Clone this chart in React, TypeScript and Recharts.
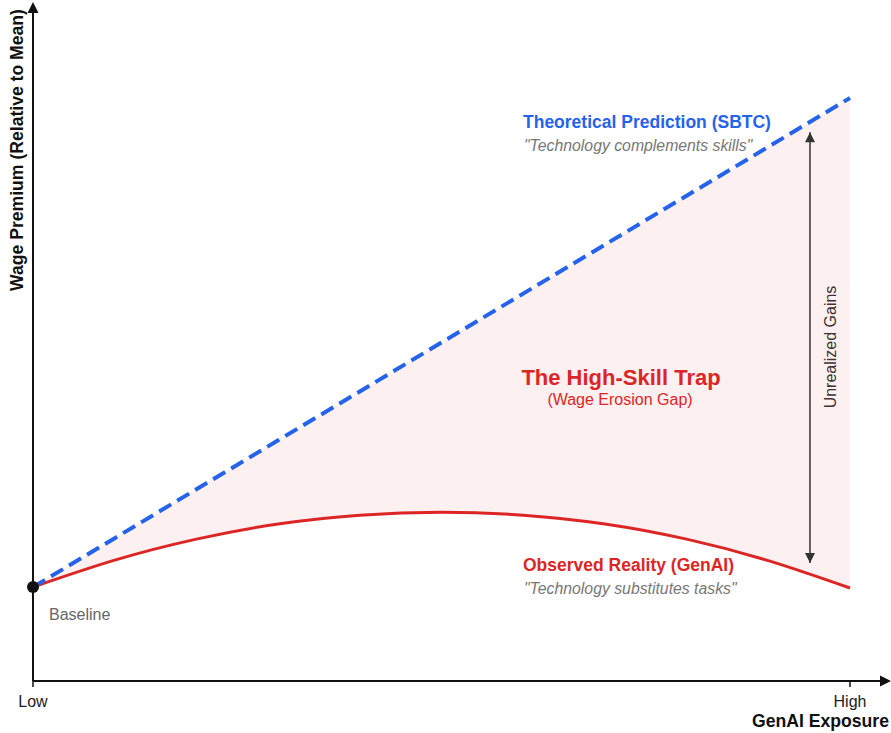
import React from "react";
import {
  ComposedChart,
  Line,
  Area,
  XAxis,
  YAxis,
  ReferenceLine,
  ReferenceDot,
  Customized,
} from "recharts";

// ---- data ----
const exposure = [0, 10, 20, 30, 40, 50, 60, 70, 80, 90, 100];
const theoretical = [0, 10, 20, 30, 40, 50, 60, 70, 80, 90, 100];
const observed = [0, 5.5, 9.8, 12.9, 14.7, 15.3, 14.7, 12.9, 9.8, 5.4, -0.2];
const xTickValues = [0, 100];
const xTickLabels = ["Low", "High"];
const gapX = 95.1;
const gapTop = 93.0;
const gapBottom = 4.9;
const xMax = 104.65;
const yMin = -19.2;
const yMax = 119;

const BLUE = "#2563eb";
const RED = "#dc2626";
const FONT = "'Liberation Sans', Arial, Helvetica, sans-serif";

const data = exposure.map((x, i) => ({
  x,
  blue: theoretical[i],
  red: observed[i],
  gap: [observed[i], theoretical[i]],
}));

const UpHead = (p: any) => (
  <polygon
    points={`${p.cx},${p.cy} ${p.cx - 5},${p.cy + 10} ${p.cx + 5},${p.cy + 10}`}
    fill="#333"
  />
);
const DownHead = (p: any) => (
  <polygon
    points={`${p.cx},${p.cy} ${p.cx - 5},${p.cy - 10} ${p.cx + 5},${p.cy - 10}`}
    fill="#333"
  />
);
const YArrow = (p: any) => (
  <polygon
    points={`${p.cx},${p.cy - 3} ${p.cx - 5.5},${p.cy + 8} ${p.cx + 5.5},${p.cy + 8}`}
    fill="#111"
  />
);
const XArrow = (p: any) => (
  <polygon
    points={`${p.cx + 3},${p.cy} ${p.cx - 8},${p.cy - 5.5} ${p.cx - 8},${p.cy + 5.5}`}
    fill="#111"
  />
);
const BaseDot = (p: any) => <circle cx={p.cx} cy={p.cy} r={6} fill="#111" />;

const Annotations = () => (
  <g style={{ fontFamily: FONT }}>
    <text
      x={0}
      y={0}
      transform="translate(23,150) rotate(-90)"
      textAnchor="middle"
      fontSize={17.6}
      fontWeight="bold"
      fill="#111"
    >
      Wage Premium (Relative to Mean)
    </text>
    <text x={889} y={727} textAnchor="end" fontSize={17.6} fontWeight="bold" fill="#111">
      GenAI Exposure
    </text>
    <text x={523} y={128} fontSize={17.5} fontWeight="bold" fill={BLUE}>
      Theoretical Prediction (SBTC)
    </text>
    <text x={524} y={151} fontSize={15.8} fontStyle="italic" fill="#777">
      "Technology complements skills"
    </text>
    <text x={523} y={571} fontSize={17.5} fontWeight="bold" fill={RED}>
      Observed Reality (GenAI)
    </text>
    <text x={524} y={594} fontSize={15.8} fontStyle="italic" fill="#777">
      "Technology substitutes tasks"
    </text>
    <text x={49} y={620} fontSize={16} fill="#666">
      Baseline
    </text>
    <rect x={515} y={358} width={212} height={34} rx={4} fill="#fff" fillOpacity={0.75} />
    <rect x={543} y={390} width={155} height={22} rx={4} fill="#fff" fillOpacity={0.75} />
    <text x={621} y={385} textAnchor="middle" fontSize={22} fontWeight="bold" fill={RED}>
      The High-Skill Trap
    </text>
    <text x={620} y={405} textAnchor="middle" fontSize={16} fill={RED}>
      (Wage Erosion Gap)
    </text>
    <rect x={821} y={283} width={19} height={128} fill="#fff" fillOpacity={0.6} />
    <text
      x={0}
      y={0}
      transform="translate(836,347) rotate(-90)"
      textAnchor="middle"
      fontSize={16}
      fill="#333"
    >
      Unrealized Gains
    </text>
  </g>
);

export default function App() {
  return (
    <div style={{ position: "absolute", left: 0, top: 0, background: "#fff" }}>
      <ComposedChart
        width={891}
        height={733}
        data={data}
        margin={{ top: 5, right: 3, bottom: 0, left: 33 }}
      >
        <XAxis
          dataKey="x"
          type="number"
          domain={[0, xMax]}
          ticks={xTickValues}
          tickFormatter={(v: number) => xTickLabels[xTickValues.indexOf(v)]}
          height={52}
          tickSize={6}
          tickMargin={9}
          axisLine={{ stroke: "#111", strokeWidth: 2 }}
          tickLine={{ stroke: "#111", strokeWidth: 1.5 }}
          tick={{ fill: "#222", fontSize: 16, fontFamily: FONT }}
          allowDataOverflow
        />
        <YAxis
          type="number"
          domain={[yMin, yMax]}
          width={0}
          tick={false}
          tickLine={false}
          axisLine={false}
          allowDataOverflow
        />
        <ReferenceLine x={0} stroke="#111" strokeWidth={2} ifOverflow="visible" />
        <Area
          dataKey="gap"
          type="natural"
          stroke="none"
          fill={RED}
          fillOpacity={0.07}
          isAnimationActive={false}
          activeDot={false}
        />
        <Line
          dataKey="red"
          type="natural"
          stroke={RED}
          strokeWidth={3}
          dot={false}
          activeDot={false}
          isAnimationActive={false}
        />
        <Line
          dataKey="blue"
          type="linear"
          stroke={BLUE}
          strokeWidth={4}
          strokeDasharray="14 7"
          dot={false}
          activeDot={false}
          isAnimationActive={false}
        />
        <ReferenceLine
          segment={[
            { x: gapX, y: gapTop },
            { x: gapX, y: gapBottom },
          ]}
          stroke="#333"
          strokeWidth={1.5}
          ifOverflow="visible"
        />
        <ReferenceDot x={gapX} y={gapTop} shape={UpHead} ifOverflow="visible" />
        <ReferenceDot x={gapX} y={gapBottom} shape={DownHead} ifOverflow="visible" />
        <ReferenceDot x={0} y={yMax} shape={YArrow} ifOverflow="visible" />
        <ReferenceDot x={xMax} y={yMin} shape={XArrow} ifOverflow="visible" />
        <ReferenceDot x={0} y={0} shape={BaseDot} ifOverflow="visible" />
        <Customized component={Annotations} />
      </ComposedChart>
    </div>
  );
}
